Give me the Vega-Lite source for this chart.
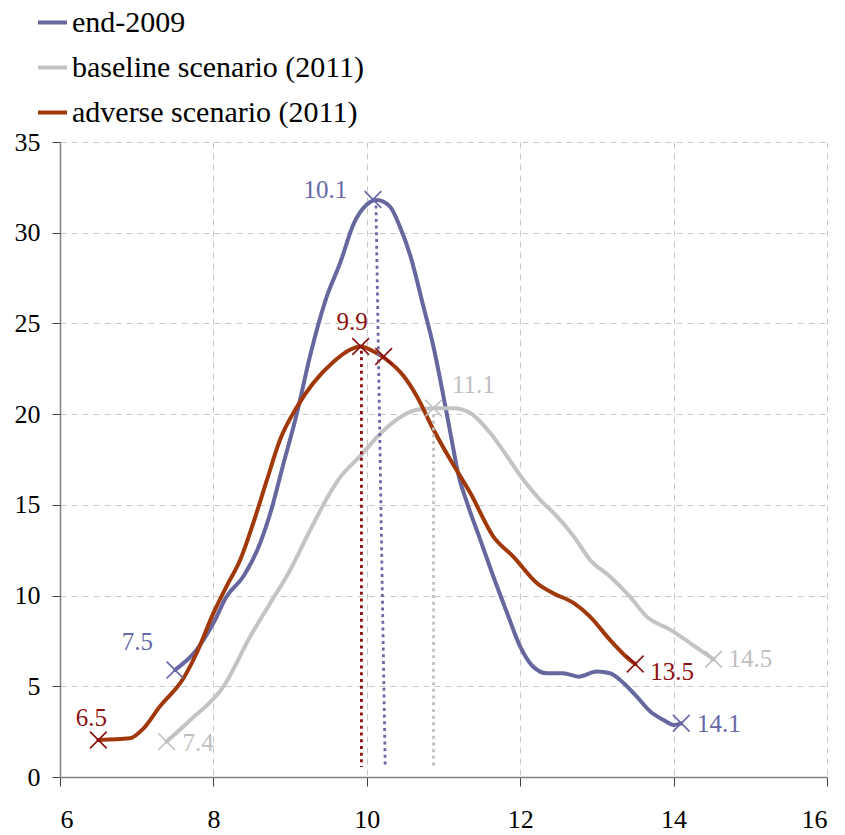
{
  "$schema": "https://vega.github.io/schema/vega-lite/v6.json",
  "width": 767,
  "height": 635,
  "autosize": "none",
  "padding": {"left": 60, "top": 142, "right": 18, "bottom": 58},
  "background": "white",
  "config": {
    "view": {"stroke": null},
    "font": "'Liberation Serif', 'Times New Roman', 'DejaVu Serif', serif",
    "axis": {
      "labelFont": "'Liberation Serif', 'Times New Roman', 'DejaVu Serif', serif",
      "labelFontSize": 26,
      "labelColor": "#000000",
      "domainColor": "#808080",
      "domainWidth": 1.5,
      "tickColor": "#404040",
      "tickWidth": 1,
      "gridColor": "#c8c8c8",
      "gridDash": [6, 5],
      "gridWidth": 1,
      "title": null
    },
    "legend": {
      "labelFont": "'Liberation Serif', 'Times New Roman', 'DejaVu Serif', serif",
      "labelFontSize": 30,
      "labelColor": "#000000",
      "labelLimit": 500,
      "symbolType": "stroke",
      "symbolSize": 841,
      "symbolStrokeWidth": 4,
      "rowPadding": 13,
      "labelOffset": 3,
      "padding": 0,
      "title": null
    }
  },
  "datasets": {
    "curves": [
      {"series": "end-2009", "x": 7.50, "y": 5.90},
      {"series": "end-2009", "x": 7.78, "y": 7.0},
      {"series": "end-2009", "x": 8.00, "y": 8.48},
      {"series": "end-2009", "x": 8.17, "y": 9.94},
      {"series": "end-2009", "x": 8.39, "y": 11.05},
      {"series": "end-2009", "x": 8.61, "y": 12.9},
      {"series": "end-2009", "x": 8.78, "y": 15.1},
      {"series": "end-2009", "x": 8.89, "y": 16.9},
      {"series": "end-2009", "x": 9.09, "y": 20.06},
      {"series": "end-2009", "x": 9.26, "y": 23.2},
      {"series": "end-2009", "x": 9.48, "y": 26.5},
      {"series": "end-2009", "x": 9.65, "y": 28.3},
      {"series": "end-2009", "x": 9.83, "y": 30.5},
      {"series": "end-2009", "x": 10.00, "y": 31.55},
      {"series": "end-2009", "x": 10.13, "y": 31.8},
      {"series": "end-2009", "x": 10.30, "y": 31.45},
      {"series": "end-2009", "x": 10.43, "y": 30.35},
      {"series": "end-2009", "x": 10.57, "y": 28.7},
      {"series": "end-2009", "x": 10.74, "y": 25.9},
      {"series": "end-2009", "x": 10.87, "y": 23.7},
      {"series": "end-2009", "x": 11.00, "y": 20.97},
      {"series": "end-2009", "x": 11.09, "y": 18.96},
      {"series": "end-2009", "x": 11.20, "y": 16.56},
      {"series": "end-2009", "x": 11.30, "y": 15.2},
      {"series": "end-2009", "x": 11.48, "y": 13.07},
      {"series": "end-2009", "x": 11.65, "y": 11.05},
      {"series": "end-2009", "x": 11.83, "y": 9.03},
      {"series": "end-2009", "x": 12.00, "y": 7.19},
      {"series": "end-2009", "x": 12.17, "y": 6.08},
      {"series": "end-2009", "x": 12.35, "y": 5.72},
      {"series": "end-2009", "x": 12.56, "y": 5.72},
      {"series": "end-2009", "x": 12.76, "y": 5.53},
      {"series": "end-2009", "x": 13.00, "y": 5.81},
      {"series": "end-2009", "x": 13.17, "y": 5.72},
      {"series": "end-2009", "x": 13.35, "y": 5.17},
      {"series": "end-2009", "x": 13.52, "y": 4.43},
      {"series": "end-2009", "x": 13.70, "y": 3.60},
      {"series": "end-2009", "x": 13.87, "y": 3.14},
      {"series": "end-2009", "x": 14.00, "y": 2.87},
      {"series": "end-2009", "x": 14.10, "y": 2.96},
      {"series": "baseline scenario (2011)", "x": 7.39, "y": 1.95},
      {"series": "baseline scenario (2011)", "x": 7.70, "y": 3.14},
      {"series": "baseline scenario (2011)", "x": 8.13, "y": 4.98},
      {"series": "baseline scenario (2011)", "x": 8.48, "y": 7.74},
      {"series": "baseline scenario (2011)", "x": 8.74, "y": 9.58},
      {"series": "baseline scenario (2011)", "x": 9.00, "y": 11.4},
      {"series": "baseline scenario (2011)", "x": 9.26, "y": 13.6},
      {"series": "baseline scenario (2011)", "x": 9.52, "y": 15.65},
      {"series": "baseline scenario (2011)", "x": 9.65, "y": 16.5},
      {"series": "baseline scenario (2011)", "x": 9.91, "y": 17.67},
      {"series": "baseline scenario (2011)", "x": 10.17, "y": 18.9},
      {"series": "baseline scenario (2011)", "x": 10.39, "y": 19.7},
      {"series": "baseline scenario (2011)", "x": 10.65, "y": 20.24},
      {"series": "baseline scenario (2011)", "x": 10.87, "y": 20.33},
      {"series": "baseline scenario (2011)", "x": 11.13, "y": 20.33},
      {"series": "baseline scenario (2011)", "x": 11.35, "y": 20.06},
      {"series": "baseline scenario (2011)", "x": 11.61, "y": 18.96},
      {"series": "baseline scenario (2011)", "x": 11.83, "y": 17.67},
      {"series": "baseline scenario (2011)", "x": 12.04, "y": 16.38},
      {"series": "baseline scenario (2011)", "x": 12.26, "y": 15.28},
      {"series": "baseline scenario (2011)", "x": 12.48, "y": 14.36},
      {"series": "baseline scenario (2011)", "x": 12.70, "y": 13.25},
      {"series": "baseline scenario (2011)", "x": 12.91, "y": 11.97},
      {"series": "baseline scenario (2011)", "x": 13.17, "y": 11.05},
      {"series": "baseline scenario (2011)", "x": 13.43, "y": 9.94},
      {"series": "baseline scenario (2011)", "x": 13.65, "y": 8.84},
      {"series": "baseline scenario (2011)", "x": 13.96, "y": 8.11},
      {"series": "baseline scenario (2011)", "x": 14.22, "y": 7.37},
      {"series": "baseline scenario (2011)", "x": 14.52, "y": 6.49},
      {"series": "adverse scenario (2011)", "x": 6.50, "y": 2.04},
      {"series": "adverse scenario (2011)", "x": 6.91, "y": 2.13},
      {"series": "adverse scenario (2011)", "x": 7.09, "y": 2.68},
      {"series": "adverse scenario (2011)", "x": 7.30, "y": 3.88},
      {"series": "adverse scenario (2011)", "x": 7.61, "y": 5.44},
      {"series": "adverse scenario (2011)", "x": 7.78, "y": 6.82},
      {"series": "adverse scenario (2011)", "x": 8.00, "y": 9.03},
      {"series": "adverse scenario (2011)", "x": 8.17, "y": 10.5},
      {"series": "adverse scenario (2011)", "x": 8.35, "y": 11.97},
      {"series": "adverse scenario (2011)", "x": 8.52, "y": 14.0},
      {"series": "adverse scenario (2011)", "x": 8.70, "y": 16.4},
      {"series": "adverse scenario (2011)", "x": 8.87, "y": 18.6},
      {"series": "adverse scenario (2011)", "x": 9.09, "y": 20.4},
      {"series": "adverse scenario (2011)", "x": 9.30, "y": 21.7},
      {"series": "adverse scenario (2011)", "x": 9.57, "y": 22.9},
      {"series": "adverse scenario (2011)", "x": 9.78, "y": 23.55},
      {"series": "adverse scenario (2011)", "x": 9.92, "y": 23.73},
      {"series": "adverse scenario (2011)", "x": 10.09, "y": 23.45},
      {"series": "adverse scenario (2011)", "x": 10.26, "y": 23.0},
      {"series": "adverse scenario (2011)", "x": 10.48, "y": 22.1},
      {"series": "adverse scenario (2011)", "x": 10.65, "y": 21.0},
      {"series": "adverse scenario (2011)", "x": 10.87, "y": 19.14},
      {"series": "adverse scenario (2011)", "x": 11.09, "y": 17.48},
      {"series": "adverse scenario (2011)", "x": 11.35, "y": 15.65},
      {"series": "adverse scenario (2011)", "x": 11.65, "y": 13.25},
      {"series": "adverse scenario (2011)", "x": 11.91, "y": 12.15},
      {"series": "adverse scenario (2011)", "x": 12.22, "y": 10.68},
      {"series": "adverse scenario (2011)", "x": 12.43, "y": 10.13},
      {"series": "adverse scenario (2011)", "x": 12.70, "y": 9.58},
      {"series": "adverse scenario (2011)", "x": 12.91, "y": 8.84},
      {"series": "adverse scenario (2011)", "x": 13.17, "y": 7.56},
      {"series": "adverse scenario (2011)", "x": 13.43, "y": 6.45},
      {"series": "adverse scenario (2011)", "x": 13.50, "y": 6.23}
    ],
    "dots": [
      {"series": "end-2009", "x": 10.12, "y": 31.5},
      {"series": "end-2009", "x": 10.24, "y": 0.55},
      {"series": "baseline scenario (2011)", "x": 10.87, "y": 20.0},
      {"series": "baseline scenario (2011)", "x": 10.87, "y": 0.55},
      {"series": "adverse scenario (2011)", "x": 9.93, "y": 23.5},
      {"series": "adverse scenario (2011)", "x": 9.93, "y": 0.55}
    ],
    "markers": [
      {"series": "end-2009", "x": 7.50, "y": 5.90},
      {"series": "end-2009", "x": 10.08, "y": 31.83},
      {"series": "end-2009", "x": 14.10, "y": 2.96},
      {"series": "baseline scenario (2011)", "x": 7.39, "y": 1.95},
      {"series": "baseline scenario (2011)", "x": 10.87, "y": 20.33},
      {"series": "baseline scenario (2011)", "x": 14.52, "y": 6.49},
      {"series": "adverse scenario (2011)", "x": 6.50, "y": 2.04},
      {"series": "adverse scenario (2011)", "x": 9.92, "y": 23.73},
      {"series": "adverse scenario (2011)", "x": 10.22, "y": 23.18},
      {"series": "adverse scenario (2011)", "x": 13.50, "y": 6.23}
    ],
    "labels": [
      {"series": "end-2009", "x": 7.01, "y": 7.42, "text": "7.5"},
      {"series": "end-2009", "x": 9.46, "y": 32.35, "text": "10.1"},
      {"series": "end-2009", "x": 14.59, "y": 2.91, "text": "14.1"},
      {"series": "baseline scenario (2011)", "x": 7.80, "y": 1.90, "text": "7.4"},
      {"series": "baseline scenario (2011)", "x": 11.39, "y": 21.62, "text": "11.1"},
      {"series": "baseline scenario (2011)", "x": 15.00, "y": 6.50, "text": "14.5"},
      {"series": "adverse scenario (2011)", "x": 6.41, "y": 3.24, "text": "6.5"},
      {"series": "adverse scenario (2011)", "x": 9.81, "y": 25.07, "text": "9.9"},
      {"series": "adverse scenario (2011)", "x": 13.98, "y": 5.76, "text": "13.5"}
    ]
  },
  "layer": [
    {
      "data": {"name": "curves"},
      "mark": {"type": "line", "strokeWidth": 4, "interpolate": "monotone", "strokeCap": "round", "strokeJoin": "round"},
      "encoding": {
        "x": {
          "field": "x", "type": "quantitative",
          "scale": {"domain": [6, 16], "nice": false, "zero": false},
          "axis": {"values": [6, 8, 10, 12, 14, 16], "format": "d", "tickSize": 9, "labelPadding": 20, "grid": true}
        },
        "y": {
          "field": "y", "type": "quantitative",
          "scale": {"domain": [0, 35], "nice": false},
          "axis": {"values": [0, 5, 10, 15, 20, 25, 30, 35], "format": "d", "tickSize": 8, "labelPadding": 12, "grid": true}
        },
        "color": {
          "field": "series", "type": "nominal",
          "scale": {
            "domain": ["end-2009", "baseline scenario (2011)", "adverse scenario (2011)"],
            "range": ["#67679f", "#c3c3c3", "#a0380a"]
          },
          "legend": {"orient": "none", "legendX": -24, "legendY": -136, "direction": "vertical"}
        },
        "order": {"field": "x", "type": "quantitative"}
      }
    },
    {
      "data": {"name": "dots"},
      "mark": {"type": "line", "strokeWidth": 2.8, "strokeDash": [3, 3.7]},
      "encoding": {
        "x": {"field": "x", "type": "quantitative"},
        "y": {"field": "y", "type": "quantitative"},
        "detail": {"field": "series"},
        "color": {
          "field": "series", "type": "nominal",
          "scale": {
            "domain": ["end-2009", "baseline scenario (2011)", "adverse scenario (2011)"],
            "range": ["#6868a8", "#c0c0c0", "#8b1010"]
          },
          "legend": null
        }
      }
    },
    {
      "data": {"name": "markers"},
      "mark": {"type": "point", "shape": "M-1,-1L1,1M1,-1L-1,1", "filled": false, "size": 280, "strokeWidth": 1.6, "opacity": 1},
      "encoding": {
        "x": {"field": "x", "type": "quantitative"},
        "y": {"field": "y", "type": "quantitative"},
        "color": {
          "field": "series", "type": "nominal",
          "scale": {
            "domain": ["end-2009", "baseline scenario (2011)", "adverse scenario (2011)"],
            "range": ["#6868a8", "#c0c0c0", "#8b1010"]
          },
          "legend": null
        }
      }
    },
    {
      "data": {"name": "labels"},
      "mark": {"type": "text", "font": "'Liberation Serif', 'Times New Roman', 'DejaVu Serif', serif", "fontSize": 25, "align": "center", "baseline": "middle"},
      "encoding": {
        "x": {"field": "x", "type": "quantitative"},
        "y": {"field": "y", "type": "quantitative"},
        "text": {"field": "text"},
        "color": {
          "field": "series", "type": "nominal",
          "scale": {
            "domain": ["end-2009", "baseline scenario (2011)", "adverse scenario (2011)"],
            "range": ["#6868a8", "#c0c0c0", "#8b1010"]
          },
          "legend": null
        }
      }
    }
  ],
  "resolve": {"scale": {"color": "independent"}}
}
